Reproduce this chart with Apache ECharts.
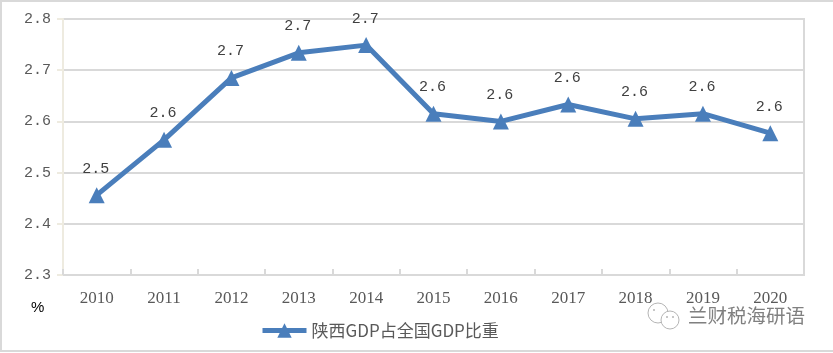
<!DOCTYPE html>
<html>
<head>
<meta charset="utf-8">
<style>
  html, body { margin: 0; padding: 0; background: #fff; }
  #main { width: 833px; height: 353px; }
</style>
<script src="https://cdn.jsdelivr.net/npm/echarts@6/dist/echarts.min.js"></script>
</head>
<body>
<div id="main"></div>
<script>
var years = ['2010', '2011', '2012', '2013', '2014', '2015', '2016', '2017', '2018', '2019', '2020'];
var shareValues = [2.456, 2.564, 2.685, 2.734, 2.749, 2.615, 2.6, 2.633, 2.605, 2.615, 2.577];
var seriesName = '陕西GDP占全国GDP比重';

var lineColor = '#4a7ebb';
var textColor = '#595959';
var gridColor = '#d9d9d9';
var iconColor = '#b5b5b5';

var chart = echarts.init(document.getElementById('main'));

var option = {
  animation: false,
  backgroundColor: '#fff',
  grid: { show: true, left: 63, right: 29, top: 19, bottom: 78, borderColor: gridColor, borderWidth: 2 },
  xAxis: {
    type: 'category',
    data: years,
    boundaryGap: true,
    axisLine: { lineStyle: { color: gridColor, width: 2 } },
    axisTick: { show: true, inside: true, length: 6, lineStyle: { color: gridColor, width: 2 } },
    axisLabel: { color: textColor, fontFamily: 'Liberation Serif', fontSize: 17, margin: 15, interval: 0 }
  },
  yAxis: {
    type: 'value',
    min: 2.3,
    max: 2.8,
    interval: 0.1,
    axisLine: { show: true, lineStyle: { color: '#eeebe0', width: 2 } },
    axisTick: { show: true, length: 6, lineStyle: { color: '#eeebe0', width: 2 } },
    axisLabel: {
      color: textColor,
      fontFamily: 'Liberation Mono',
      fontSize: 15,
      margin: 12,
      formatter: function (v) { return v.toFixed(1); }
    },
    splitLine: { lineStyle: { color: gridColor, width: 2 } }
  },
  legend: {
    left: 255,
    top: 317,
    itemWidth: 44,
    itemHeight: 18,
    itemGap: 0,
    data: [seriesName],
    lineStyle: { width: 5 },
    textStyle: { color: textColor, fontFamily: 'Noto Sans CJK SC', fontSize: 17, padding: [0, 0, 0, 0] }
  },
  series: [{
    name: seriesName,
    type: 'line',
    data: shareValues,
    symbol: 'triangle',
    symbolSize: 16,
    lineStyle: { color: lineColor, width: 5 },
    itemStyle: { color: lineColor },
    label: {
      show: true,
      position: 'top',
      distance: 11,
      offset: [-1, 0],
      color: '#404040',
      fontFamily: 'Liberation Mono',
      fontSize: 15,
      formatter: function (p) { return p.value.toFixed(1); }
    }
  }],
  graphic: [
    { type: 'rect', silent: true, z: 100, shape: { x: 1, y: 1, width: 840, height: 350 }, style: { fill: 'none', stroke: gridColor, lineWidth: 2 } },
    { type: 'text', silent: true, z: 100, left: 31, top: 300, style: { text: '%', fill: '#000', font: '15px "Liberation Sans"' } },
    // watermark in the corner
    { type: 'circle', silent: true, z: 100, shape: { cx: 658, cy: 313, r: 10 }, style: { fill: '#fff', stroke: iconColor, lineWidth: 1 } },
    { type: 'circle', silent: true, z: 100, shape: { cx: 670, cy: 320, r: 9 }, style: { fill: '#fff', stroke: iconColor, lineWidth: 1 } },
    { type: 'circle', silent: true, z: 100, shape: { cx: 654, cy: 310, r: 1 }, style: { fill: iconColor } },
    { type: 'circle', silent: true, z: 100, shape: { cx: 667, cy: 317, r: 1 }, style: { fill: iconColor } },
    { type: 'circle', silent: true, z: 100, shape: { cx: 673, cy: 317, r: 1 }, style: { fill: iconColor } },
    { type: 'text', silent: true, z: 100, left: 688, top: 306, style: { text: '兰财税海研语', fill: '#808080', font: '19.5px "Noto Sans CJK SC"' } }
  ]
};

chart.setOption(option);
window.onresize = chart.resize;
</script>
</body>
</html>
